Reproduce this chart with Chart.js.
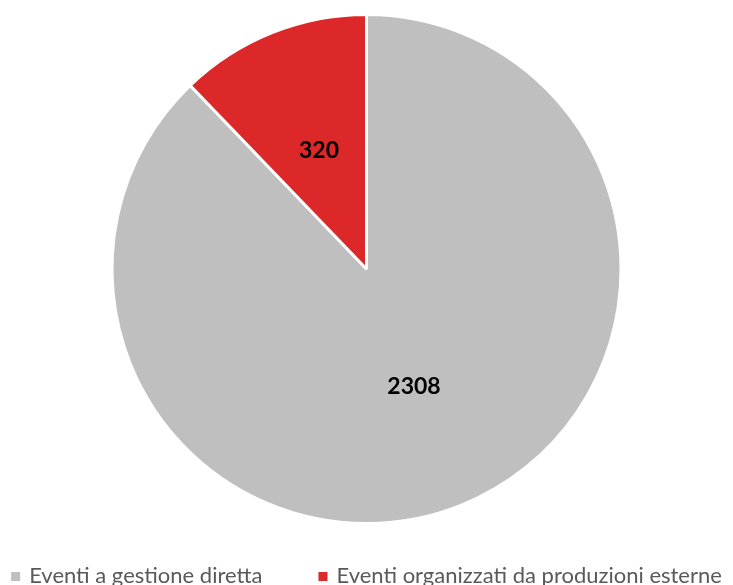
<!DOCTYPE html>
<html>
<head>
<meta charset="utf-8">
<script src="https://cdn.jsdelivr.net/npm/chart.js@4"></script>
<style>
  html, body { margin: 0; padding: 0; background: #fff; overflow: hidden; }
  #wrap { width: 733px; height: 585px; }
</style>
</head>
<body>
<div id="wrap"><canvas id="pie" width="733" height="585"></canvas></div>
<script>
// categorie e valori
const categories = ["Eventi a gestione diretta", "Eventi organizzati da produzioni esterne"];
const values = [2308, 320];
const colors = ["#BFBFBF", "#DC2828"];

// etichette dentro le fette
const sliceLabels = {
    id: 'sliceLabels',
    afterDatasetsDraw(chart) {
        const { ctx } = chart;
        const meta = chart.getDatasetMeta(0);
        meta.data.forEach((arc, i) => {
            const mid = (arc.startAngle + arc.endAngle) / 2;
            const r = arc.outerRadius * 0.5;
            ctx.save();
            ctx.fillStyle = "#000000";
            ctx.font = "bold 23px Lato";
            ctx.textAlign = "center";
            ctx.textBaseline = "middle";
            ctx.fillText(values[i], arc.x + Math.cos(mid) * r, arc.y + Math.sin(mid) * r);
            ctx.restore();
        });
    }
};

// legenda su una sola riga, in basso (tagliata come nell'originale)
const bottomLegend = {
    id: 'bottomLegend',
    afterDraw(chart) {
        const { ctx } = chart;
        const box = 9, gapText = 9, gapItem = 56;
        ctx.save();
        ctx.font = "22px Lato";
        const widths = categories.map(c => box + gapText + ctx.measureText(c).width);
        const total = widths.reduce((a, b) => a + b, 0) + gapItem * (widths.length - 1);
        let x = (chart.width - total) / 2;
        const baseline = 583;
        categories.forEach((c, i) => {
            ctx.fillStyle = colors[i];
            ctx.fillRect(x, 572, box, box);
            ctx.fillStyle = "#595959";
            ctx.textBaseline = "alphabetic";
            ctx.fillText(c, x + box + gapText, baseline);
            x += widths[i] + gapItem;
        });
        ctx.restore();
    }
};

new Chart(document.getElementById("pie"), {
    type: "pie",
    data: {
        labels: categories,
        datasets: [{
            data: values,
            backgroundColor: colors,
            borderColor: "#ffffff",
            borderWidth: 3
        }]
    },
    options: {
        responsive: false,
        animation: false,
        layout: { padding: { top: 13, bottom: 60 } },
        plugins: {
            tooltip: { enabled: false },
            legend: { display: false }
        }
    },
    plugins: [sliceLabels, bottomLegend]
});
</script>
</body>
</html>
